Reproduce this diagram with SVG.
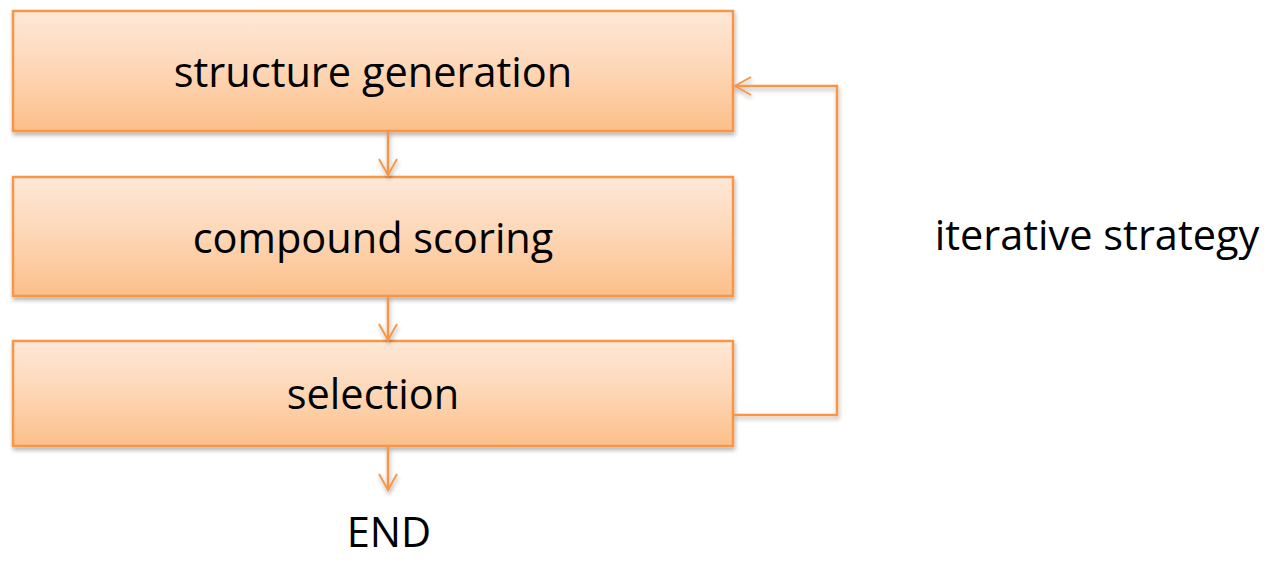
<svg xmlns="http://www.w3.org/2000/svg" width="1266" height="562" viewBox="0 0 1266 562">
<defs>
<linearGradient id="g" x1="0" y1="0" x2="0" y2="1">
<stop offset="0" stop-color="#fee8d8"/>
<stop offset="0.5" stop-color="#fdd6b5"/>
<stop offset="1" stop-color="#fcbf89"/>
</linearGradient>
<filter id="sh" x="-5%" y="-10%" width="110%" height="130%">
<feGaussianBlur in="SourceAlpha" stdDeviation="2"/>
<feOffset dx="1" dy="3" result="b"/>
<feComponentTransfer><feFuncA type="linear" slope="0.3"/></feComponentTransfer>
<feMerge><feMergeNode/><feMergeNode in="SourceGraphic"/></feMerge>
</filter>
<marker id="ah" viewBox="0 0 20 20" refX="18" refY="10" markerWidth="20" markerHeight="20" markerUnits="userSpaceOnUse" orient="auto">
<path d="M2 1 L18 10 L2 19" fill="none" stroke="#f79646" stroke-width="2"/>
</marker>
<style>
.box{fill:url(#g);stroke:#f79646;stroke-width:2.5;filter:url(#sh)}
.t{font-family:"Open Sans","Liberation Sans",sans-serif;font-size:41.5px;fill:#000;text-anchor:middle}
.c{fill:none;stroke:#f79646;stroke-width:2.5}
</style>
</defs>
<g id="n1"><rect class="box" x="13" y="11" width="720" height="120"/><text class="t" x="373" y="87">structure generation</text></g>
<g id="n2"><rect class="box" x="13" y="177" width="720" height="119"/><text class="t" x="373" y="253">compound scoring</text></g>
<g id="n3"><rect class="box" x="13" y="341" width="720" height="105"/><text class="t" x="373" y="409">selection</text></g>
<g id="lbl1"><text class="t" x="1097" y="250">iterative strategy</text></g>
<g id="end"><text class="t" x="389" y="547">END</text></g>
<g id="connectors" filter="url(#sh)">
<line class="c" x1="388" y1="131" x2="388" y2="175" marker-end="url(#ah)"/>
<line class="c" x1="388" y1="296" x2="388" y2="340" marker-end="url(#ah)"/>
<line class="c" x1="388" y1="446" x2="388" y2="490" marker-end="url(#ah)"/>
<polyline class="c" points="734,415 837,415 837,86 735,86" marker-end="url(#ah)"/>
</g>
</svg>
